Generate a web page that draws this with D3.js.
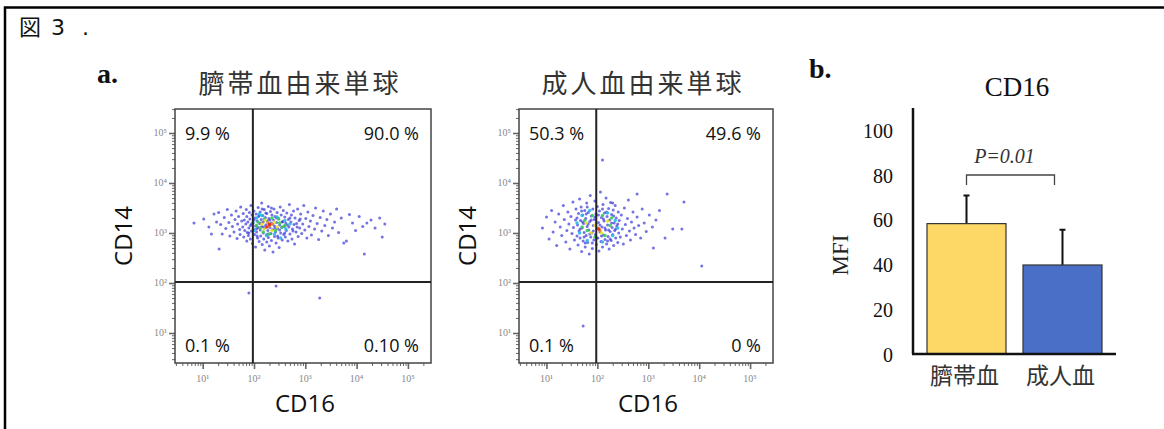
<!DOCTYPE html>
<html>
<head>
<meta charset="utf-8">
<script src="https://cdn.jsdelivr.net/npm/d3@7"></script>
<style>
  body { margin: 0; background: #fff; }
  svg { display: block; }
</style>
</head>
<body>
<svg id="chart" width="1164" height="429"></svg>
<script>
// ---- data ----
// flow plots: events as [log10 CD16, log10 CD14]
const cordEvents = [
  [0.83, 3.2], [1.02, 3.28], [1.12, 3.12], [1.17, 2.98], [1.22, 3.38], [1.27, 3.22], [1.31, 3.41],
  [1.32, 2.68], [1.35, 3.17], [1.38, 2.98], [1.42, 3.31], [1.45, 3.09], [1.48, 3.47], [1.51, 3.21],
  [1.53, 2.94], [1.56, 3.36], [1.58, 3.13], [1.61, 3.02], [1.63, 3.27], [1.65, 3.44], [1.67, 2.89],
  [1.68, 3.18], [1.70, 3.33], [1.72, 3.07], [1.73, 2.97], [1.74, 3.52], [1.76, 3.24],
  [1.78, 3.12], [1.79, 3.39], [1.80, 2.92], [1.81, 3.26], [1.82, 3.05], [1.84, 3.18], [1.85, 3.47],
  [1.86, 2.84], [1.86, 3.33], [1.87, 3.01], [1.88, 3.22], [1.89, 2.95], [1.90, 3.10], [1.91, 3.41],
  [1.92, 3.28], [1.93, 2.88], [1.93, 3.15], [1.94, 3.55], [1.95, 3.04], [1.96, 3.36], [1.97, 2.79],
  [1.98, 3.20], [1.99, 3.08], [2.00, 3.44], [2.01, 2.97], [2.02, 3.30], [2.03, 3.14], [2.03, 2.72],
  [2.04, 3.38], [2.05, 3.02], [2.06, 3.24], [2.07, 2.90], [2.08, 3.51], [2.08, 3.11], [2.09, 3.33],
  [2.10, 2.83], [2.11, 3.19], [2.12, 3.06], [2.12, 3.42], [2.13, 2.94], [2.14, 3.27], [2.15, 3.60],
  [2.15, 3.13], [2.16, 2.77], [2.17, 3.35], [2.18, 3.00], [2.18, 3.22], [2.19, 2.88], [2.20, 3.47],
  [2.20, 3.09], [2.21, 2.66], [2.22, 3.31], [2.23, 3.16], [2.24, 2.96], [2.25, 3.39], [2.25, 2.82],
  [2.26, 3.24], [2.27, 3.05], [2.28, 3.53], [2.28, 2.91], [2.29, 3.29], [2.30, 2.74], [2.31, 3.11],
  [2.32, 3.43], [2.33, 2.99], [2.33, 3.20], [2.34, 2.85], [2.35, 3.36], [2.36, 3.07], [2.37, 2.62],
  [2.38, 3.26], [2.39, 3.48], [2.40, 2.93], [2.40, 3.14], [2.41, 3.33], [2.42, 3.02], [2.43, 2.80],
  [2.44, 3.21], [2.45, 3.41], [2.46, 3.09], [2.47, 2.90], [2.48, 3.29], [2.49, 2.71], [2.50, 3.16],
  [2.51, 3.52], [2.52, 3.00], [2.53, 3.36], [2.54, 3.11], [2.55, 2.86], [2.56, 3.23], [2.57, 3.45],
  [2.58, 2.97], [2.59, 3.13], [2.60, 3.32], [2.61, 2.92], [2.62, 3.20], [2.63, 3.05], [2.64, 3.40],
  [2.66, 2.84], [2.67, 3.27], [2.68, 3.12], [2.69, 3.57], [2.70, 2.98], [2.72, 3.22], [2.73, 3.36],
  [2.74, 2.88], [2.75, 3.08], [2.77, 3.44], [2.78, 3.17], [2.79, 2.78], [2.80, 3.30], [2.82, 3.02],
  [2.83, 3.19], [2.85, 3.48], [2.86, 2.93], [2.88, 3.25], [2.89, 3.10],
  [1.95, 3.18], [2.00, 3.26], [2.05, 3.08], [2.10, 3.36], [2.14, 3.20], [2.19, 3.12], [2.23, 3.40],
  [2.27, 2.98], [2.31, 3.26], [2.36, 3.18], [2.41, 3.10], [2.44, 3.30], [2.50, 3.06], [2.55, 3.22],
  [2.60, 3.00], [2.65, 3.16], [2.70, 3.30], [2.76, 3.04], [2.06, 2.94], [2.16, 3.48], [2.34, 3.50],
  [2.46, 2.94], [2.84, 3.12], [2.90, 3.28], [1.90, 3.00],
  [2.91, 3.38], [2.93, 2.99], [2.95, 3.18], [2.97, 3.55], [2.99, 3.06], [3.01, 3.29], [3.03, 2.90],
  [3.05, 3.42], [3.07, 3.13], [3.10, 3.24], [3.12, 2.96], [3.15, 3.35], [3.18, 3.08], [3.20, 3.50],
  [3.23, 3.19], [3.26, 2.87], [3.29, 3.31], [3.32, 3.04], [3.35, 3.44], [3.38, 3.15], [3.42, 3.27],
  [3.45, 2.95], [3.49, 3.38], [3.53, 3.10], [3.57, 3.22], [3.61, 3.48], [3.65, 3.01], [3.70, 3.30],
  [3.75, 2.80], [3.80, 2.84], [3.86, 3.37], [3.92, 3.20], [3.98, 3.05], [4.05, 3.33], [4.12, 3.13],
  [4.15, 2.58], [4.20, 3.20], [4.28, 3.26], [4.36, 3.10], [4.45, 3.30], [4.50, 2.92], [4.55, 3.18],
  [2.43, 1.94], [3.28, 1.70], [1.90, 1.80]
];
// dense core of the cord plot: [log CD16, log CD14, density level 1..5]
const cordCore = [
  [2.05, 3.30, 1], [2.15, 3.35, 1], [2.45, 3.32, 1], [2.6, 3.25, 1], [2.0, 3.05, 1], [2.62, 3.08, 1],
  [2.25, 2.95, 1], [2.4, 2.98, 1], [2.1, 3.38, 1], [2.7, 3.18, 1], [1.98, 3.2, 1], [2.52, 2.9, 1],
  [2.08, 3.22, 2], [2.12, 3.1, 2], [2.2, 3.28, 2], [2.35, 3.3, 2], [2.5, 3.2, 2], [2.55, 3.12, 2],
  [2.18, 3.02, 2], [2.42, 3.05, 2], [2.05, 3.15, 2], [2.3, 2.98, 2], [2.48, 3.28, 2], [2.6, 3.15, 2],
  [2.15, 3.18, 3], [2.22, 3.25, 3], [2.4, 3.22, 3], [2.45, 3.12, 3], [2.2, 3.08, 3], [2.35, 3.05, 3],
  [2.27, 3.2, 4], [2.3, 3.14, 4], [2.35, 3.18, 4],
  [2.3, 3.17, 5], [2.25, 3.12, 5]
];
const adultEvents = [
  [0.92, 3.10], [1.00, 3.32], [1.05, 2.88], [1.10, 3.45], [1.13, 3.02], [1.17, 3.22], [1.20, 2.75],
  [1.24, 3.38], [1.27, 3.12], [1.30, 2.95], [1.33, 3.55], [1.35, 3.27], [1.38, 2.82], [1.40, 3.05],
  [1.42, 3.42], [1.44, 3.18], [1.46, 2.68], [1.48, 3.33], [1.50, 2.99], [1.52, 3.62], [1.53, 3.11],
  [1.55, 2.86], [1.57, 3.26], [1.58, 3.48], [1.60, 2.94],
  [1.61, 3.16], [1.62, 2.76], [1.63, 3.39], [1.64, 3.04], [1.65, 3.68], [1.66, 2.90], [1.67, 3.25],
  [1.68, 3.52], [1.69, 2.63], [1.70, 3.10], [1.71, 3.36], [1.72, 2.84], [1.73, 3.19], [1.74, 3.01],
  [1.75, 3.45], [1.76, 2.72], [1.77, 3.29], [1.78, 2.95], [1.79, 3.60], [1.80, 3.13], [1.81, 2.81],
  [1.82, 3.41], [1.83, 3.06], [1.84, 2.58], [1.85, 3.23], [1.86, 3.75], [1.87, 2.92], [1.88, 3.34],
  [1.89, 3.00], [1.90, 2.69], [1.91, 3.48], [1.92, 3.15], [1.93, 2.86], [1.94, 3.27], [1.95, 3.64],
  [1.96, 2.97], [1.97, 3.38], [1.98, 2.77], [1.99, 3.09], [2.00, 3.53], [2.01, 2.90], [2.02, 3.21],
  [2.03, 2.64], [2.04, 3.44], [2.05, 3.02], [2.06, 3.82], [2.07, 2.83], [2.08, 3.31], [2.09, 3.12],
  [2.10, 2.72], [2.11, 3.57], [2.12, 2.96], [2.13, 3.24], [2.14, 3.40], [2.15, 2.87], [2.16, 3.06],
  [2.17, 3.70], [2.18, 2.78], [2.19, 3.33], [2.20, 3.16], [2.21, 2.93], [2.22, 3.49], [2.23, 2.68],
  [2.24, 3.26], [2.25, 3.03], [2.26, 3.61], [2.27, 2.85], [2.28, 3.37], [2.29, 3.11], [2.30, 2.97],
  [2.31, 3.46], [2.32, 2.75], [2.33, 3.20], [2.34, 3.05], [2.35, 3.55], [2.36, 2.90], [2.37, 3.30],
  [2.38, 3.14], [2.40, 2.81], [2.41, 3.42], [2.42, 3.00], [2.43, 3.25],
  [1.66, 3.08], [1.71, 3.22], [1.74, 2.92], [1.78, 3.38], [1.82, 3.18], [1.85, 2.98], [1.88, 3.26],
  [1.92, 3.04], [1.95, 3.32], [1.98, 2.90], [2.02, 3.36], [2.05, 3.16], [2.08, 2.94], [2.12, 3.28],
  [2.15, 3.10], [2.18, 3.42], [2.22, 3.06], [2.25, 2.88], [2.28, 3.20], [2.32, 3.34], [2.36, 3.08],
  [1.69, 3.44], [1.76, 2.80], [2.40, 3.18], [1.90, 2.80], [2.10, 3.48], [2.20, 2.84], [1.80, 3.52],
  [2.30, 3.60], [1.60, 3.30],
  [2.45, 2.92], [2.47, 3.36], [2.49, 3.08], [2.51, 2.78], [2.53, 3.50], [2.55, 3.17], [2.57, 2.95],
  [2.59, 3.29], [2.61, 3.66], [2.63, 3.04], [2.65, 2.86], [2.67, 3.22], [2.70, 3.42], [2.72, 3.10],
  [2.75, 2.97], [2.78, 3.32], [2.81, 3.15], [2.85, 2.90], [2.88, 3.48], [2.92, 3.20], [2.96, 3.03],
  [3.02, 3.36], [3.08, 3.12], [3.15, 3.26], [3.22, 3.45],
  [2.10, 4.46], [3.37, 3.78], [3.70, 3.62], [2.78, 3.78], [3.48, 3.08], [3.66, 3.08], [3.33, 2.90],
  [3.10, 2.70], [4.05, 2.34], [1.72, 1.14]
];
const adultCore = [
  [1.7, 3.35, 1], [1.85, 3.45, 1], [2.2, 3.4, 1], [2.35, 3.25, 1], [1.65, 3.0, 1],
  [2.3, 2.95, 1], [1.8, 2.85, 1], [2.1, 2.82, 1], [1.6, 3.2, 1], [2.4, 3.1, 1],
  [1.75, 3.25, 2], [1.9, 3.35, 2], [2.1, 3.35, 2], [2.25, 3.15, 2], [1.8, 3.05, 2],
  [2.15, 2.95, 2], [1.95, 2.92, 2], [1.7, 3.12, 2], [2.28, 3.3, 2],
  [1.78, 3.2, 3], [2.2, 3.24, 3], [1.95, 3.15, 3], [2.08, 3.0, 3], [1.88, 3.0, 3],
  [2.0, 3.1, 4], [2.05, 3.05, 4], [1.98, 3.2, 4],
  [2.03, 3.08, 5]
];
const cordPct = ["9.9 %", "90.0 %", "0.1 %", "0.10 %"];
const adultPct = ["50.3 %", "49.6 %", "0.1 %", "0 %"];
const flowTitles = ["臍帯血由来単球", "成人血由来単球"];
const decades = [1, 2, 3, 4, 5];
const decadeLabels = ["10¹", "10²", "10³", "10⁴", "10⁵"];

// bar chart
const groups = ["臍帯血", "成人血"];
const mfi = [58.3, 39.8];
const mfiSD = [12.6, 15.8];
const mfiTicks = [0, 20, 40, 60, 80, 100];
const pLabel = "P=0.01";

const densityColors = ["#3030d8", "#27b8e6", "#35cc55", "#e4e02c", "#f08a1e", "#e0241c"];

const svg = d3.select("#chart");

// outer frame of the figure page
svg.append("path")
  .attr("d", "M5,429 V7.5 H1164")
  .attr("fill", "none").attr("stroke", "#000").attr("stroke-width", 2.5);

const fig = svg.append("text").attr("y", 35)
  .attr("font-family", "'DejaVu Sans', sans-serif")
  .attr("font-size", 22).attr("fill", "#111");
fig.append("tspan").attr("x", 19).attr("font-family", "'Noto Sans CJK JP', sans-serif").text("図");
fig.append("tspan").attr("x", 51).text("3");
fig.append("tspan").attr("x", 82).text(".");

svg.append("text")
  .attr("x", 97).attr("y", 83)
  .attr("font-family", "'Liberation Serif', serif").attr("font-weight", "bold")
  .attr("font-size", 28).attr("fill", "#111").text("a.");

function drawFlow(left, right, events, core, pct, title) {
  const x = d3.scaleLog().domain([10 ** 0.46, 10 ** 5.45]).range([left, right]);
  const y = d3.scaleLog().domain([10 ** 0.4, 10 ** 5.48]).range([363, 109]);
  const g = svg.append("g");

  g.append("g").selectAll("circle").data(events).join("circle")
    .attr("cx", d => x(10 ** d[0]))
    .attr("cy", d => y(10 ** d[1]))
    .attr("r", 1.5)
    .attr("fill", densityColors[0])
    .attr("opacity", 0.68);

  g.append("g").selectAll("circle").data(core).join("circle")
    .attr("cx", d => x(10 ** d[0]))
    .attr("cy", d => y(10 ** d[1]))
    .attr("r", 1.7)
    .attr("fill", d => densityColors[d[2]])
    .attr("opacity", 0.9);

  // axes with log minor ticks
  const minorX = x.ticks().filter(t => Math.abs(Math.log10(t) % 1) > 1e-6);
  const minorY = y.ticks().filter(t => Math.abs(Math.log10(t) % 1) > 1e-6);
  const majors = decades.map(d => 10 ** d);

  const axisStyle = sel => {
    sel.select(".domain").remove();
    sel.selectAll("line").attr("stroke", "#666");
  };
  g.append("g").attr("transform", "translate(0,363)")
    .call(d3.axisBottom(x).tickValues(minorX).tickSize(3).tickFormat(""))
    .call(axisStyle);
  g.append("g").attr("transform", "translate(0,363)")
    .call(d3.axisBottom(x).tickValues(majors).tickSize(6).tickFormat(""))
    .call(axisStyle)
    .selectAll("line").attr("stroke-width", 1.6);
  g.append("g").attr("transform", `translate(${left},0)`)
    .call(d3.axisLeft(y).tickValues(minorY).tickSize(3).tickFormat(""))
    .call(axisStyle);
  g.append("g").attr("transform", `translate(${left},0)`)
    .call(d3.axisLeft(y).tickValues(majors).tickSize(6).tickFormat(""))
    .call(axisStyle)
    .selectAll("line").attr("stroke-width", 1.6);

  const tickFont = "'Liberation Serif', serif";
  g.append("g").selectAll("text").data(decades).join("text")
    .attr("x", d => x(10 ** d)).attr("y", 382).attr("text-anchor", "middle")
    .attr("font-family", tickFont).attr("font-size", 10).attr("fill", "#888")
    .text((d, i) => decadeLabels[i]);
  g.append("g").selectAll("text").data(decades).join("text")
    .attr("x", left - 8).attr("y", d => y(10 ** d) + 3).attr("text-anchor", "end")
    .attr("font-family", tickFont).attr("font-size", 10).attr("fill", "#888")
    .text((d, i) => decadeLabels[i]);

  // plot frame and quadrant gates
  g.append("rect")
    .attr("x", left).attr("y", 109).attr("width", right - left).attr("height", 254)
    .attr("fill", "none").attr("stroke", "#444").attr("stroke-width", 1.5);
  g.append("line")
    .attr("x1", x(95)).attr("x2", x(95)).attr("y1", 109).attr("y2", 363)
    .attr("stroke", "#222").attr("stroke-width", 2);
  g.append("line")
    .attr("x1", left).attr("x2", right).attr("y1", y(105)).attr("y2", y(105))
    .attr("stroke", "#222").attr("stroke-width", 2);

  const pctFont = "'Open Sans', 'Noto Sans', sans-serif";
  const quad = [
    [left + 10, 140, "start"], [right - 12, 140, "end"],
    [left + 10, 352, "start"], [right - 12, 352, "end"]
  ];
  quad.forEach(([qx, qy, a], i) => {
    g.append("text").attr("x", qx).attr("y", qy).attr("text-anchor", a)
      .attr("font-family", pctFont).attr("font-size", 18).attr("fill", "#111")
      .text(pct[i]);
  });

  g.append("text")
    .attr("x", (left + right) / 2 - 3).attr("y", 93).attr("text-anchor", "middle")
    .attr("font-family", "'Noto Sans CJK JP', sans-serif").attr("font-size", 26)
    .attr("letter-spacing", 3).attr("fill", "#333").text(title);

  g.append("text")
    .attr("x", (left + right) / 2 + 2).attr("y", 412).attr("text-anchor", "middle")
    .attr("font-family", pctFont).attr("font-size", 24).attr("fill", "#111")
    .text("CD16");
  g.append("text")
    .attr("transform", `translate(${left - 43},236) rotate(-90)`)
    .attr("text-anchor", "middle")
    .attr("font-family", pctFont).attr("font-size", 24).attr("fill", "#111")
    .text("CD14");
}

drawFlow(175, 431, cordEvents, cordCore, cordPct, flowTitles[0]);
drawFlow(519, 773, adultEvents, adultCore, adultPct, flowTitles[1]);

// ---- panel b: bar chart ----
const serif = "'Liberation Serif', 'Times New Roman', serif";
const yb = d3.scaleLinear().domain([0, 110]).range([354, 108]);
const xb = d3.scaleBand().domain(groups).range([927, 1102]).paddingInner(0.177).paddingOuter(0);
const gb = svg.append("g");

gb.append("text").attr("x", 809).attr("y", 78)
  .attr("font-family", serif).attr("font-weight", "bold").attr("font-size", 28)
  .attr("fill", "#111").text("b.");
gb.append("text").attr("x", 1017).attr("y", 96).attr("text-anchor", "middle")
  .attr("font-family", serif).attr("font-size", 27).attr("fill", "#111").text("CD16");

const barColors = ["#fdd866", "#4a6fc6"];

// error bars (upper half, drawn behind the bars)
gb.selectAll(".err").data(groups).join("path")
  .attr("class", "err")
  .attr("d", (d, i) => {
    const cx = xb(d) + xb.bandwidth() / 2;
    return `M${cx},${yb(mfi[i])} V${yb(mfi[i] + mfiSD[i])} M${cx - 3},${yb(mfi[i] + mfiSD[i])} H${cx + 3}`;
  })
  .attr("stroke", "#111").attr("stroke-width", 2).attr("fill", "none");

gb.selectAll(".bar").data(groups).join("rect")
  .attr("class", "bar")
  .attr("x", d => xb(d)).attr("width", xb.bandwidth())
  .attr("y", (d, i) => yb(mfi[i]))
  .attr("height", (d, i) => yb(0) - yb(mfi[i]))
  .attr("fill", (d, i) => barColors[i])
  .attr("stroke", "#333").attr("stroke-width", 1.2);

const ya = gb.append("g").attr("transform", "translate(913,0)")
  .call(d3.axisLeft(yb).tickValues(mfiTicks).tickSize(0).tickPadding(20));
ya.select(".domain").attr("d", `M0,${yb(110)}V${yb(0)}`).attr("stroke", "#111").attr("stroke-width", 2.5);
ya.selectAll("text").attr("font-family", serif).attr("font-size", 20).attr("fill", "#111").attr("dy", "0.35em");

gb.append("line").attr("x1", 912).attr("x2", 1116).attr("y1", yb(0)).attr("y2", yb(0))
  .attr("stroke", "#111").attr("stroke-width", 2.5);

gb.selectAll(".cat").data(groups).join("text")
  .attr("class", "cat")
  .attr("x", d => xb(d) + xb.bandwidth() / 2 - 2).attr("y", 384)
  .attr("text-anchor", "middle")
  .attr("font-family", "'Noto Sans CJK JP', sans-serif").attr("font-size", 23)
  .attr("fill", "#333").text(d => d);

gb.append("text")
  .attr("transform", "translate(848,255) rotate(-90)").attr("text-anchor", "middle")
  .attr("font-family", serif).attr("font-size", 23).attr("fill", "#222").text("MFI");

// significance bracket
const bx1 = xb(groups[0]) + xb.bandwidth() / 2;
const bx2 = xb(groups[1]) + xb.bandwidth() / 2 - 8;
gb.append("path")
  .attr("d", `M${bx1},185 V175 H${bx2} V185`)
  .attr("fill", "none").attr("stroke", "#444").attr("stroke-width", 1.3);
gb.append("text").attr("x", (bx1 + bx2) / 2 - 6).attr("y", 163).attr("text-anchor", "middle")
  .attr("font-family", serif).attr("font-style", "italic").attr("font-size", 20)
  .attr("fill", "#333").text(pLabel);
</script>
</body>
</html>
